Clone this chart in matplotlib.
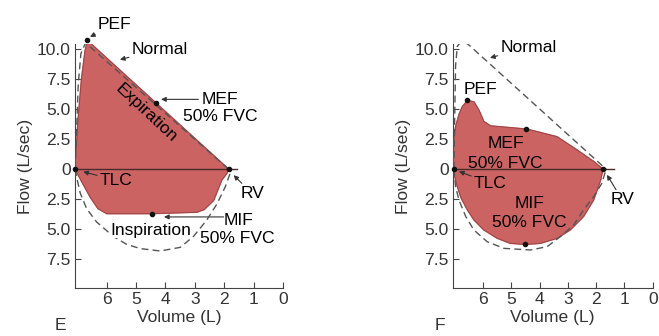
import matplotlib.pyplot as plt

plt.rcParams['font.family'] = ['Liberation Sans', 'DejaVu Sans']
plt.rcParams['font.size'] = 12.6

# panel E - normal loop (dashed)
e_norm_exp_vol = [7.08, 7.02, 6.97, 6.88, 6.72, 1.85]
e_norm_exp_flow = [0, 3.5, 7.0, 9.6, 10.5, 0]
e_norm_insp_vol = [7.08, 7.0, 6.9, 6.68, 6.34, 5.77, 5.32, 4.86, 4.18, 3.5, 3.05, 2.6, 2.25, 1.97, 1.8, 1.85]
e_norm_insp_flow = [0, -0.92, -2.0, -3.3, -4.4, -5.6, -6.25, -6.6, -6.8, -6.5, -5.6, -4.25, -2.9, -1.5, -0.36, 0]

# panel E - patient loop
e_exp_vol = [7.08, 6.98, 6.86, 6.74, 6.66, 1.85]
e_exp_flow = [0, 4.0, 7.5, 9.8, 10.7, 0]
e_insp_vol = [1.85, 1.91, 2.08, 2.36, 2.68, 2.93, 4.47, 6.0, 6.3, 6.57, 6.85, 7.08]
e_insp_flow = [0, -0.36, -0.9, -2.6, -3.36, -3.58, -3.7, -3.7, -3.28, -2.3, -1.05, 0]

# panel F - normal loop (dashed)
f_norm_exp_vol = [7.04, 7.01, 6.98, 6.92, 6.8, 6.68, 6.45, 1.65]
f_norm_exp_flow = [0, 4.4, 8.56, 10.2, 10.55, 10.64, 10.2, 0]
f_norm_insp_vol = [7.04, 6.98, 6.86, 6.62, 6.33, 5.86, 5.27, 4.33, 3.74, 3.27, 2.8, 2.45, 2.09, 1.8, 1.65]
f_norm_insp_flow = [0, -1.44, -2.56, -3.94, -5.06, -6.03, -6.58, -6.72, -6.44, -5.61, -4.64, -3.39, -2.28, -1.17, 0]

# panel F - patient loop
f_exp_vol = [7.04, 7.07, 6.98, 6.85, 6.74, 6.56, 6.33, 6.15, 5.98, 5.74, 4.45, 3.39, 2.68, 2.09, 1.76]
f_exp_flow = [0, 1.9, 3.55, 4.6, 5.2, 5.7, 5.6, 4.9, 3.97, 3.6, 3.33, 2.7, 1.6, 0.64, 0]
f_insp_vol = [1.76, 1.84, 2.09, 2.45, 2.92, 3.39, 3.98, 4.5, 5.04, 5.5, 5.98, 6.33, 6.56, 6.78, 6.92, 7.01, 7.04]
f_insp_flow = [0, -0.89, -2.56, -3.94, -5.05, -5.75, -6.17, -6.25, -6.17, -5.75, -5.05, -4.22, -3.39, -2.42, -1.44, -0.6, 0]

# marked points
e_dots_vol = [6.66, 4.32, 7.08, 1.85, 4.47]
e_dots_flow = [10.7, 5.5, 0, 0, -3.7]
f_dots_vol = [6.56, 4.47, 7.04, 1.76, 4.51]
f_dots_flow = [5.72, 3.33, 0, 0, -6.25]

y_ticks = [10, 7.5, 5, 2.5, 0, -2.5, -5, -7.5]
y_labels = ['10.0', '7.5', '5.0', '2.5', '0', '2.5', '5.0', '7.5']
x_ticks = [6, 5, 4, 3, 2, 1, 0]

FILL = '#cc6363'
EDGE = '#9c4444'
DASH = '#555555'
arrow = dict(arrowstyle='-|>', lw=0.8, color='#333333', mutation_scale=7, shrinkA=0, shrinkB=0)


def setup_axes(ax, zero_end):
    ax.set_xlim(7.08, 0)
    ax.set_ylim(-9.9, 10.4)
    ax.spines['top'].set_visible(False)
    ax.spines['right'].set_visible(False)
    ax.spines['left'].set_color('#444444')
    ax.spines['bottom'].set_color('#444444')
    ax.set_yticks(y_ticks)
    ax.set_yticklabels(y_labels)
    ax.set_xticks(x_ticks)
    ax.tick_params(direction='in', length=4, color='#444444', labelcolor='#333333', pad=3)
    ax.set_xlabel('Volume (L)', color='#333333', labelpad=2)
    ax.set_ylabel('Flow (L/sec)', color='#333333', labelpad=3)
    ax.plot([7.08, zero_end], [0, 0], color='#4a2a2a', lw=1, zorder=4)


def draw_loop(ax, exp_v, exp_f, insp_v, insp_f):
    vol = exp_v + insp_v
    flow = exp_f + insp_f
    ax.fill(vol, flow, color=FILL, zorder=2)
    ax.plot(vol, flow, color=EDGE, lw=0.7, zorder=3)


fig = plt.figure(figsize=(6.59, 3.36), dpi=100)
ax1 = fig.add_axes([0.1138, 0.142, 0.3156, 0.727])
ax2 = fig.add_axes([0.687, 0.142, 0.3035, 0.727])

# ---- panel E
setup_axes(ax1, 1.55)
draw_loop(ax1, e_exp_vol, e_exp_flow, e_insp_vol, e_insp_flow)
ax1.plot(e_norm_exp_vol, e_norm_exp_flow, color=DASH, lw=1, dashes=(5, 3), zorder=5)
ax1.plot(e_norm_insp_vol, e_norm_insp_flow, color=DASH, lw=1, dashes=(5, 3), zorder=5)
ax1.scatter(e_dots_vol, e_dots_flow, s=9, color='#111111', zorder=6, clip_on=False)

ax1.annotate('PEF', xy=(6.57, 11.0), xytext=(6.3, 12.0), ha='left', va='center',
             arrowprops=arrow, annotation_clip=False)
ax1.annotate('Normal', xy=(5.55, 9.1), xytext=(5.15, 9.97), ha='left', va='center',
             arrowprops=arrow)
ax1.text(4.64, 4.64, 'Expiration', rotation=-43, ha='center', va='center', zorder=7)
ax1.annotate('', xy=(4.15, 5.8), xytext=(2.88, 5.8), arrowprops=arrow)
ax1.text(2.16, 5.8, 'MEF', ha='center', va='center')
ax1.text(2.14, 4.36, '50% FVC', ha='center', va='center')
ax1.annotate('TLC', xy=(6.8, -0.22), xytext=(6.23, -0.92), ha='left', va='center',
             arrowprops=arrow)
ax1.annotate('RV', xy=(1.68, -0.5), xytext=(1.45, -2.03), ha='left', va='center',
             arrowprops=arrow)
ax1.annotate('', xy=(4.05, -3.97), xytext=(2.02, -3.97), arrowprops=arrow)
ax1.text(1.5, -4.25, 'MIF', ha='center', va='center')
ax1.text(1.54, -5.8, '50% FVC', ha='center', va='center')
ax1.text(4.5, -5.08, 'Inspiration', ha='center', va='center',
         bbox=dict(facecolor='white', edgecolor='none', pad=0.5), zorder=6)

# ---- panel F
setup_axes(ax2, 1.36)
draw_loop(ax2, f_exp_vol, f_exp_flow, f_insp_vol, f_insp_flow)
ax2.plot(f_norm_exp_vol, f_norm_exp_flow, color=DASH, lw=1, dashes=(5, 3), zorder=5)
ax2.plot(f_norm_insp_vol, f_norm_insp_flow, color=DASH, lw=1, dashes=(5, 3), zorder=5)
ax2.scatter(f_dots_vol, f_dots_flow, s=9, color='#111111', zorder=6, clip_on=False)

ax2.annotate('Normal', xy=(5.76, 9.25), xytext=(5.39, 10.14), ha='left', va='center',
             arrowprops=arrow)
ax2.text(6.09, 6.6, 'PEF', ha='center', va='center')
ax2.text(5.19, 2.17, 'MEF', ha='center', va='center', zorder=7)
ax2.text(5.21, 0.5, '50% FVC', ha='center', va='center', zorder=7)
ax2.annotate('TLC', xy=(6.86, -0.19), xytext=(6.33, -1.17), ha='left', va='center',
             arrowprops=arrow)
ax2.annotate('RV', xy=(1.62, -0.47), xytext=(1.5, -2.56), ha='left', va='center',
             arrowprops=arrow)
ax2.text(4.36, -2.83, 'MIF', ha='center', va='center', zorder=7)
ax2.text(4.36, -4.44, '50% FVC', ha='center', va='center', zorder=7)

fig.text(60 / 659, 1 - 325 / 336, 'E', ha='center', va='center', color='#333333')
fig.text(440 / 659, 1 - 325 / 336, 'F', ha='center', va='center', color='#333333')

fig.savefig('out.png', dpi=100)
